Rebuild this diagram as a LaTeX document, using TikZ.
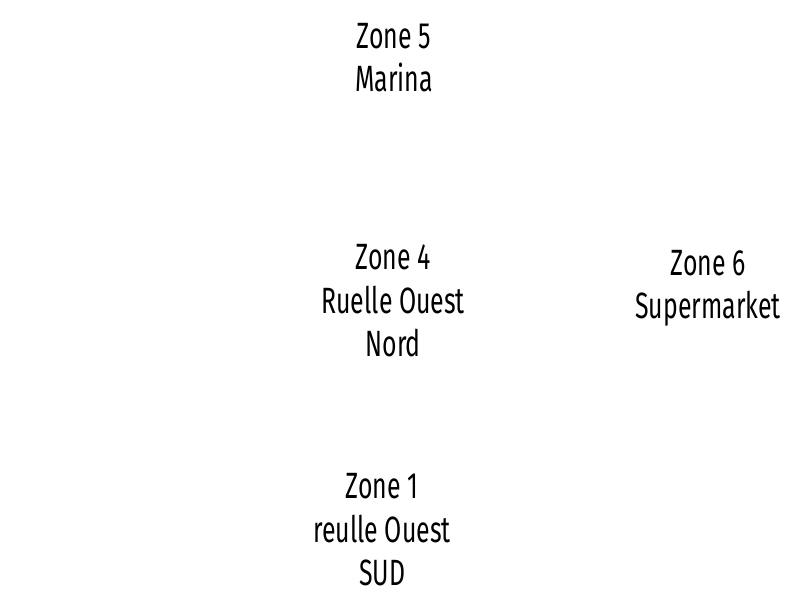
\documentclass[tikz,border=0pt]{standalone}
\usepackage{fontspec}
\newfontfamily\zonefont[FakeStretch=0.68]{Fira Sans}
\usepackage{tikz}

\begin{document}
\begin{tikzpicture}[zone/.style={align=center,inner sep=0pt,
    font=\zonefont\fontsize{26}{31}\selectfont}]
\useasboundingbox (0,0) rectangle (20,15);
\node[zone] (z5) at (9.85,13.56) {Zone 5\\Marina};
\node[zone] (z4) at (9.83,7.48)  {Zone 4\\Ruelle Ouest\\Nord};
\node[zone] (z6) at (17.7,7.79)  {Zone 6\\Supermarket};
\node[zone] (z1) at (9.55,1.75)  {Zone 1\\reulle Ouest\\SUD};
\end{tikzpicture}
\end{document}
